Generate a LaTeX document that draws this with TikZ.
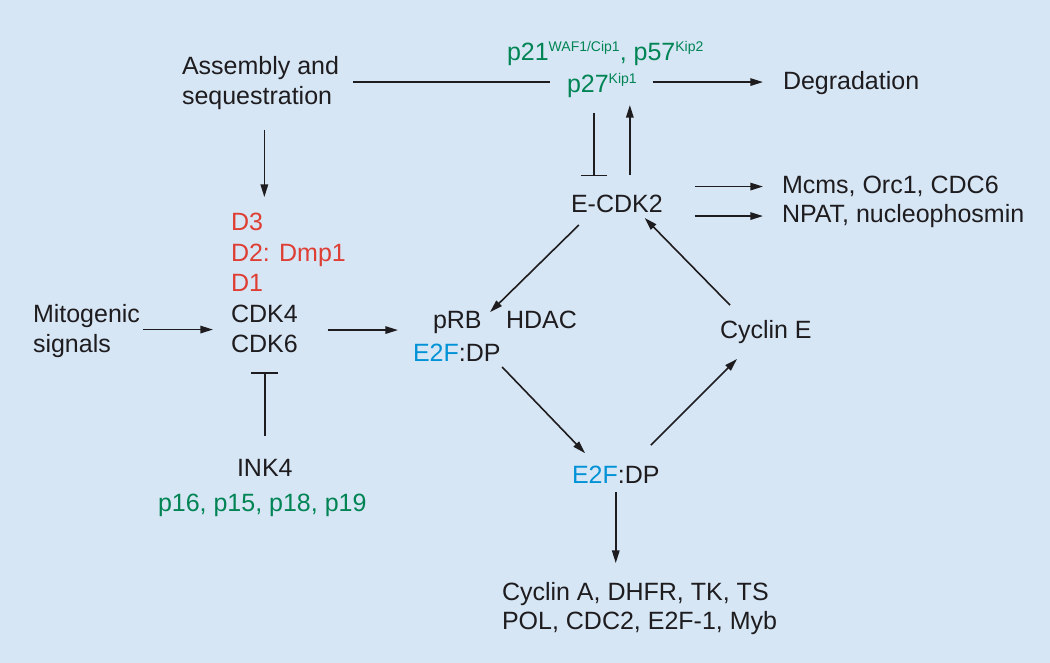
\documentclass[tikz,border=0pt]{standalone}
\usepackage{fontspec}
\setmainfont{Liberation Sans}
\usetikzlibrary{arrows.meta}
\definecolor{bgblue}{RGB}{214,230,245}
\definecolor{txtblack}{RGB}{30,28,30}
\definecolor{pgreen}{RGB}{0,132,84}
\definecolor{cred}{RGB}{222,62,52}
\definecolor{eblue}{RGB}{0,146,214}
\newcommand{\supk}[1]{\raisebox{7pt}{\fontsize{10.5}{12}\selectfont #1}}
\tikzset{
  txt/.style={inner sep=0pt, outer sep=0pt, anchor=base west, text height=13.4pt, text depth=0pt,
    font=\fontsize{18.75}{22}\selectfont, text=txtblack},
  grn/.style={txt, text=pgreen},
  rd/.style={txt, text=cred},
  ln/.style={line width=1.2pt, draw=txtblack},
  arr/.style={ln, -{Triangle[length=9.5pt,width=5.6pt]}},
  inh/.style={ln, -{Bar[width=20pt]}}
}
\begin{document}
\begin{tikzpicture}[x=0.75pt,y=-0.75pt]
\fill[bgblue] (0,0) rectangle (1050,663);
\useasboundingbox (0,0) rectangle (1050,663);
% nodes
\node[txt] (asmA) at (182,75) {Assembly and};
\node[txt] (asmB) at (182,105) {sequestration};
\node[grn] (p21) at (507,61) {p21\supk{WAF1/Cip1}, p57\supk{Kip2}};
\node[grn] (p27) at (567,93) {p27\supk{Kip1}};
\node[txt] (degr) at (783,90) {Degradation};
\node[txt] (ecdk) at (571,212.5) {E-CDK2};
\node[txt] (mcms) at (782,194) {Mcms, Orc1, CDC6};
\node[txt] (npat) at (782,223) {NPAT, nucleophosmin};
\node[rd] (d3) at (231,231) {D3};
\node[rd] (d2) at (231,261.5) {D2: Dmp1};
\node[rd] (d1) at (231,291.7) {D1};
\node[txt] (cdk4) at (231,322) {CDK4};
\node[txt] (cdk6) at (231,352) {CDK6};
\node[txt] (mitoA) at (33,322) {Mitogenic};
\node[txt] (mitoB) at (33,352) {signals};
\node[txt] (prb) at (433,328) {pRB};
\node[txt] (hdac) at (506,328) {HDAC};
\node[txt] (e2fa) at (413,361.5) {\textcolor{eblue}{E2F}:DP};
\node[txt] (cyce) at (720,338) {Cyclin E};
\node[txt] (e2fb) at (572,483) {\textcolor{eblue}{E2F}:DP};
\node[txt] (ink4) at (237,476.7) {INK4};
\node[grn] (p16) at (158,511.7) {p16, p15, p18, p19};
\node[txt] (cyca) at (502,600) {Cyclin A, DHFR, TK, TS};
\node[txt] (pol) at (502,629) {POL, CDC2, E2F-1, Myb};
% connectors
\draw[ln] ([shift={(14,16)}]asmA.east) -- ([shift={(-17,-2)}]p27.west);
\draw[arr] ([shift={(16,-2)}]p27.east) -- ([shift={(-20,1)}]degr.west);
\draw[inh] ([shift={(-23,-81.5)}]ecdk.north) -- ([shift={(-23,-18.5)}]ecdk.north);
\draw[arr] ([shift={(13,-19.5)}]ecdk.north) -- ([shift={(13,12)}]p27.south -| ecdk.north);
\draw[arr] ([shift={(32,-17)}]ecdk.east) -- ([shift={(-19,1.5)}]mcms.west);
\draw[arr] ([shift={(32,12.5)}]ecdk.east) -- ([shift={(-19,2)}]npat.west);
\draw[arr, shorten <=18.75pt, shorten >=12pt] (cdk4.north |- asmB.south) -- (cdk4.north |- d3.north);
\draw[arr] ([shift={(3,16.5)}]mitoA.east) -- ([shift={(-18,16.5)}]cdk4.west);
\draw[arr] ([shift={(30,17)}]cdk4.east) -- ([shift={(-15,-22.5)}]e2fa.west);
\draw[inh, shorten <=17pt, shorten >=15pt] (ink4.north) -- (ink4.north |- cdk6.south);
\draw[arr] ([shift={(-38,12.5)}]ecdk.south) -- ([shift={(8.4,2)}]prb.north east);
\draw[arr] ([shift={(1.6,5.5)}]e2fa.south east) -- ([shift={(13,-12)}]e2fb.north west);
\draw[arr] ([shift={(-8.7,-20)}]e2fb.north east) -- ([shift={(17,21)}]cyce.south west);
\draw[arr] ([shift={(10,-15)}]cyce.north west) -- ([shift={(-18,5.5)}]ecdk.south east);
\draw[arr, shorten <=6.75pt, shorten >=14.25pt] (e2fb.south) -- (e2fb.south |- cyca.north);
\end{tikzpicture}
\end{document}
